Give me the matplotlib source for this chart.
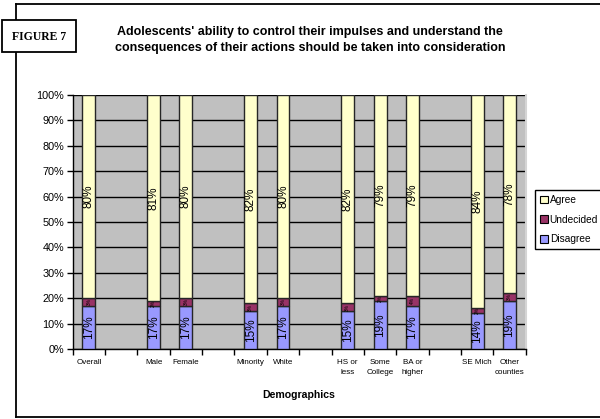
import numpy as np
import matplotlib
matplotlib.use("Agg")
import matplotlib.pyplot as plt
from matplotlib.patches import Rectangle, Patch
from matplotlib.lines import Line2D

# survey breakdown, percent of respondents per group
categories = ["Overall", "Male", "Female", "Minority", "White",
              "HS or\nless", "Some\nCollege", "BA or\nhigher",
              "SE Mich", "Other\ncounties"]
slots = [0, 2, 3, 5, 6, 8, 9, 10, 12, 13]   # empty slots separate the groups
disagree = [17, 17, 17, 15, 17, 15, 19, 17, 14, 19]
undecided = [3, 2, 3, 3, 3, 3, 2, 4, 2, 3]
agree = [80, 81, 80, 82, 80, 82, 79, 79, 84, 78]

series = ["Agree", "Undecided", "Disagree"]
colors = {"Agree": "#ffffcc", "Undecided": "#993366", "Disagree": "#9999ff"}

title = ("Adolescents' ability to control their impulses and understand the\n"
         "consequences of their actions should be taken into consideration")

sans = "Liberation Sans"
W, H = 600, 419

fig = plt.figure(figsize=(W / 100, H / 100), dpi=100)
ax = fig.add_axes([72.7 / W, 1 - 349 / H, 453 / W, 254 / H])
ax.set_facecolor("#c0c0c0")

x = np.array(slots) + 0.5
d = np.array(disagree)
u = np.array(undecided)
a = np.array(agree)
bw = 0.4
edge = dict(edgecolor="#262626", linewidth=1.0, zorder=3)
ax.bar(x, d, bw, color=colors["Disagree"], **edge)
ax.bar(x, u, bw, bottom=d, color=colors["Undecided"], **edge)
ax.bar(x, a, bw, bottom=d + u, color=colors["Agree"], **edge)

for xi, di, ui, ai in zip(x, d, u, a):
    ax.text(xi, di / 2, f"{di}%", rotation=90, ha="center", va="center",
            fontsize=8.5, family=sans, zorder=4)
    ax.text(xi, di + ui / 2, f"{ui}%", rotation=90, ha="center", va="center",
            fontsize=3.5, family=sans, zorder=4)
    ax.text(xi, di + ui + ai / 2, f"{ai}%", rotation=90, ha="center", va="center",
            fontsize=8.5, family=sans, zorder=4)

ax.set_ylim(0, 100)
ax.set_xlim(0, 14)
ax.set_yticks(np.arange(0, 101, 10))
ax.set_yticklabels([f"{v}%" for v in range(0, 101, 10)], family=sans, fontsize=7.8)
ax.yaxis.grid(True, color="black", linewidth=1.0)
ax.set_axisbelow(True)

ax.set_xticks(np.arange(0, 15))
ax.set_xticklabels([])
ax.set_xticks(x, minor=True)
ax.set_xticklabels(categories, minor=True, family=sans, fontsize=5.8,
                   linespacing=1.75, va="top")
ax.tick_params(axis="x", which="minor", length=0, pad=7)
ax.tick_params(axis="both", which="major", direction="out", length=4,
               width=1, color="black")
ax.tick_params(axis="y", pad=2)

for s in ("left", "bottom"):
    ax.spines[s].set_color("black")
    ax.spines[s].set_linewidth(1.0)
ax.spines["top"].set_visible(False)
ax.spines["right"].set_color("#d4d4d4")
ax.spines["right"].set_linewidth(1.5)

handles = [Patch(facecolor=colors[s], edgecolor="black", linewidth=0.8) for s in series]
fig.legend(handles, series, loc="upper left",
           bbox_to_anchor=(535 / W, 1 - 190 / H), frameon=True, fancybox=False,
           edgecolor="black", framealpha=1, prop={"family": sans, "size": 7.3},
           handlelength=0.75, handleheight=0.75, handletextpad=0.2,
           labelspacing=0.95, borderpad=0.5, borderaxespad=0)

fig.text(310 / W, 1 - 40 / H, title, ha="center", va="center", family=sans,
         fontsize=9.0, fontweight="bold", linespacing=1.45)
fig.text(299 / W, 1 - 395 / H, "Demographics", ha="center", va="center",
         family=sans, fontsize=7.6, fontweight="bold")

# outer frame, open on the right side
frame = dict(transform=fig.transFigure, color="black", linewidth=1.3)
fig.add_artist(Line2D([16 / W, 1], [1 - 4.5 / H] * 2, **frame))
fig.add_artist(Line2D([16 / W] * 2, [1 - 4.5 / H, 1 - 417 / H], **frame))
fig.add_artist(Line2D([16 / W, 1], [1 - 417 / H] * 2, **frame))

fig.add_artist(Rectangle((2 / W, 1 - 52 / H), 74 / W, 32 / H, transform=fig.transFigure,
                         facecolor="white", edgecolor="black", linewidth=1.3, zorder=5))
fig.text(39 / W, 1 - 36.5 / H, "FIGURE 7", ha="center", va="center",
         family="Liberation Serif", fontweight="bold", fontsize=8.5, zorder=6)

fig.savefig("out.png", dpi=100)
